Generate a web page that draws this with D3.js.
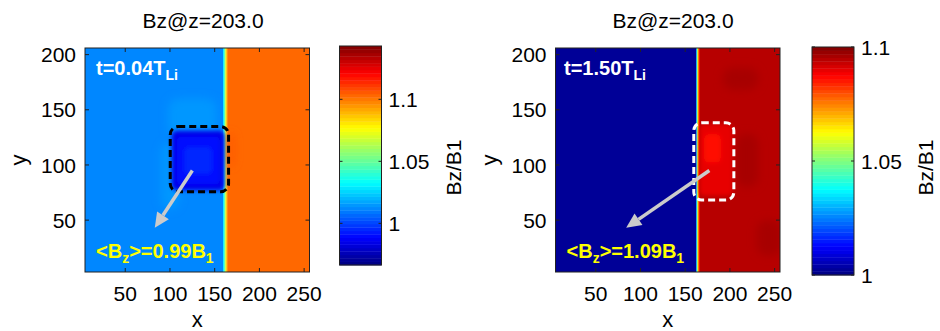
<!DOCTYPE html>
<html>
<head>
<meta charset="utf-8">
<script src="https://cdn.jsdelivr.net/npm/d3@7/dist/d3.min.js"></script>
<style>
  body { margin: 0; background: #fff; }
  svg text { font-family: "Liberation Sans", Arial, Helvetica, sans-serif; fill: #000; }
</style>
</head>
<body>
<svg id="chart" width="940" height="331"></svg>
<script>
// ---- axes ----
const xExtent = [5, 256];
const yExtent = [3, 206];
const xTicks = [50, 100, 150, 200, 250];
const yTicks = [50, 100, 150, 200];
const titles = ["Bz@z=203.0", "Bz@z=203.0"];

// ---- colour bars (Bz/B1) ----
const cbarDomains = [[0.9664, 1.143], [1.0, 1.1]];
const cbarTicks = [[1, 1.05, 1.1], [1, 1.05, 1.1]];

// ---- annotations ----
const times = ["0.04", "1.50"];          // t in units of T_Li
const meanBz = [0.99, 1.09];             // mean Bz inside the dashed box, in B1

// ---- field: full-height columns [x0, x1, Bz/B1] ----
const columnsA = [
  [5, 159.5, 1.012], [159.5, 160.8, 1.03], [160.8, 162.0, 1.05],
  [162.0, 163.2, 1.075], [163.2, 164.4, 1.095], [164.4, 256, 1.103]
];
const columnsB = [
  [5, 162.3, 1.002], [162.3, 163.3, 1.03], [163.3, 164.3, 1.055],
  [164.3, 165.3, 1.075], [165.3, 166.3, 1.085], [166.3, 256, 1.094]
];

// ---- field: diffuse fluctuations [x0, x1, y0, y1, Bz/B1] ----
const hazeA = [
  [98, 152, 125, 160, 1.016],
  [90, 110, 60, 120, 1.015],
  [166, 172, 98, 130, 1.107]
];
const hazeB = [
  [192, 232, 168, 188, 1.096],
  [207, 232, 80, 128, 1.096],
  [230, 258, 18, 50, 1.096]
];

// ---- field: averaging region [x0, x1, y0, y1, Bz/B1] ----
const coreA = [
  [102, 161, 77, 131, 0.985],
  [107, 156, 82, 126, meanBz[0]],
  [116, 147, 92, 116, 0.995]
];
const coreB = [
  [166, 203, 72, 137, meanBz[1]],
  [171, 190, 102, 128, 1.087]
];

// ---- dashed averaging box [x0, x1, y0, y1] and arrows [xFrom, yFrom, xTo, yTo] ----
const boxes = [[100.3, 165.5, 75.7, 134.8], [159.6, 204.4, 68.2, 138.2]];
const arrows = [[125, 95, 83, 43], [177, 95, 84, 43]];

// ---- panel layout ----
const panels = [
  { left: 85, right: 309.5, top: 48, bottom: 272, titleX: 203,
    cbar: { x0: 339.5, x1: 381.5, y0: 46, y1: 265 }, tLabelX: 96,
    columns: columnsA, haze: hazeA, core: coreA, boxStroke: "#000" },
  { left: 555.5, right: 780, top: 48, bottom: 272, titleX: 673,
    cbar: { x0: 812, x1: 854, y0: 47, y1: 275 }, tLabelX: 564,
    columns: columnsB, haze: hazeB, core: coreB, boxStroke: "#fff" }
];

// MATLAB-style jet colormap with 64 levels
function jet(t) {
  t = Math.max(0, Math.min(1, t));
  const q = (Math.min(63, Math.floor(t * 64)) + 0.5) / 64;
  const c = v => Math.round(255 * Math.max(0, Math.min(1, v)));
  return d3.rgb(c(1.5 - Math.abs(4 * q - 3)), c(1.5 - Math.abs(4 * q - 2)), c(1.5 - Math.abs(4 * q - 1))).formatHex();
}

const svg = d3.select("#chart");
const defs = svg.append("defs");
function blur(id, sd) {
  defs.append("filter").attr("id", id).attr("x", "-50%").attr("y", "-50%").attr("width", "200%").attr("height", "200%")
    .append("feGaussianBlur").attr("stdDeviation", sd);
}
blur("soft", 2.0);
blur("haze", 4.5);

panels.forEach((p, i) => {
  const x = d3.scaleLinear().domain(xExtent).range([p.left, p.right]);
  const y = d3.scaleLinear().domain(yExtent).range([p.bottom, p.top]);
  const cNorm = d3.scaleLinear().domain(cbarDomains[i]).range([0, 1]);
  const color = v => jet(cNorm(v));

  const clipId = "clip" + i;
  defs.append("clipPath").attr("id", clipId).append("rect")
    .attr("x", p.left).attr("y", p.top).attr("width", p.right - p.left).attr("height", p.bottom - p.top);

  const field = svg.append("g").attr("clip-path", `url(#${clipId})`);
  field.selectAll("rect.col").data(p.columns).join("rect").attr("class", "col")
    .attr("x", d => x(d[0])).attr("width", d => x(d[1]) - x(d[0]) + 0.3)
    .attr("y", y(yExtent[1])).attr("height", y(yExtent[0]) - y(yExtent[1]))
    .attr("fill", d => color(d[2]));
  const patch = (g, rows, rx) => g.selectAll("rect").data(rows).join("rect")
    .attr("x", d => x(d[0])).attr("width", d => x(d[1]) - x(d[0]))
    .attr("y", d => y(d[3])).attr("height", d => y(d[2]) - y(d[3]))
    .attr("rx", rx).attr("fill", d => color(d[4]));
  patch(field.append("g").attr("filter", "url(#haze)"), p.haze, 10);
  patch(field.append("g").attr("filter", "url(#soft)"), p.core, 5);

  // axes box with inward ticks on all four sides
  const ax = svg.append("g").attr("stroke", "#222").attr("stroke-width", 1).attr("fill", "none");
  ax.append("rect").attr("x", p.left).attr("y", p.top).attr("width", p.right - p.left).attr("height", p.bottom - p.top);
  xTicks.forEach(v => {
    ax.append("line").attr("x1", x(v)).attr("x2", x(v)).attr("y1", p.bottom).attr("y2", p.bottom - 4);
    ax.append("line").attr("x1", x(v)).attr("x2", x(v)).attr("y1", p.top).attr("y2", p.top + 4);
  });
  yTicks.forEach(v => {
    ax.append("line").attr("x1", p.left).attr("x2", p.left + 4).attr("y1", y(v)).attr("y2", y(v));
    ax.append("line").attr("x1", p.right).attr("x2", p.right - 4).attr("y1", y(v)).attr("y2", y(v));
  });

  svg.append("g").selectAll("text").data(xTicks).join("text")
    .attr("x", d => x(d)).attr("y", p.bottom + 29).attr("text-anchor", "middle")
    .attr("font-size", 21).text(d => d);
  svg.append("g").selectAll("text").data(yTicks).join("text")
    .attr("x", p.left - 9).attr("y", d => y(d)).attr("dy", "0.36em").attr("text-anchor", "end")
    .attr("font-size", 21).text(d => d);

  svg.append("text").attr("x", p.titleX).attr("y", 28).attr("text-anchor", "middle")
    .attr("font-size", 21).text(titles[i]);
  svg.append("text").attr("x", (p.left + p.right) / 2).attr("y", 327).attr("text-anchor", "middle")
    .attr("font-size", 22).text("x");
  svg.append("text").attr("transform", `translate(${p.left - 59},${(p.top + p.bottom) / 2}) rotate(-90)`)
    .attr("text-anchor", "middle").attr("font-size", 22).text("y");

  // dashed averaging box
  const b = boxes[i];
  svg.append("rect").attr("x", x(b[0])).attr("y", y(b[3]))
    .attr("width", x(b[1]) - x(b[0])).attr("height", y(b[2]) - y(b[3]))
    .attr("rx", 8).attr("fill", "none").attr("stroke", p.boxStroke)
    .attr("stroke-width", 3).attr("stroke-dasharray", "7,4");

  // arrow from box to the mean-value label
  const a = arrows[i];
  const x1 = x(a[0]), y1 = y(a[1]), x2 = x(a[2]), y2 = y(a[3]);
  const ang = Math.atan2(y2 - y1, x2 - x1), L = 15, W = 7;
  const bx = x2 - L * Math.cos(ang), by = y2 - L * Math.sin(ang);
  svg.append("line").attr("x1", x1).attr("y1", y1).attr("x2", bx).attr("y2", by)
    .attr("stroke", "#cbcbcb").attr("stroke-width", 3.5);
  svg.append("polygon").attr("fill", "#cbcbcb")
    .attr("points", [[x2, y2],
      [bx + W * Math.sin(ang), by - W * Math.cos(ang)],
      [bx - W * Math.sin(ang), by + W * Math.cos(ang)]].map(d => d.join(",")).join(" "));

  // time label
  const tl = svg.append("text").attr("x", p.tLabelX).attr("y", 75)
    .attr("font-size", 20).attr("font-weight", "bold").style("fill", "#fff");
  tl.append("tspan").text(`t=${times[i]}T`);
  tl.append("tspan").attr("dy", 5).attr("font-size", 14).text("Li");

  // mean-value label
  const ml = svg.append("text").attr("x", p.left + 11).attr("y", 258)
    .attr("font-size", 20).attr("font-weight", "bold").style("fill", "#ffff00");
  ml.append("tspan").text("<B");
  ml.append("tspan").attr("dy", 5).attr("font-size", 14).text("z");
  ml.append("tspan").attr("dy", -5).text(`>=${meanBz[i].toFixed(2)}B`);
  ml.append("tspan").attr("dy", 5).attr("font-size", 14).text("1");

  // colour bar
  const cb = p.cbar;
  const cy = d3.scaleLinear().domain(cbarDomains[i]).range([cb.y1, cb.y0]);
  const levels = d3.range(64);
  const lv = d3.scaleLinear().domain([0, 64]).range(cbarDomains[i]);
  svg.append("g").selectAll("rect").data(levels).join("rect")
    .attr("x", cb.x0).attr("width", cb.x1 - cb.x0)
    .attr("y", d => cy(lv(d + 1))).attr("height", d => cy(lv(d)) - cy(lv(d + 1)) + 0.4)
    .attr("fill", d => jet((d + 0.5) / 64));
  const cax = svg.append("g").attr("stroke", "#222").attr("fill", "none");
  cax.append("rect").attr("x", cb.x0).attr("y", cb.y0).attr("width", cb.x1 - cb.x0).attr("height", cb.y1 - cb.y0);
  cbarTicks[i].forEach(v => {
    cax.append("line").attr("x1", cb.x0).attr("x2", cb.x0 + 3).attr("y1", cy(v)).attr("y2", cy(v));
    cax.append("line").attr("x1", cb.x1).attr("x2", cb.x1 - 3).attr("y1", cy(v)).attr("y2", cy(v));
  });
  svg.append("g").selectAll("text").data(cbarTicks[i]).join("text")
    .attr("x", cb.x1 + 7).attr("y", d => cy(d)).attr("dy", "0.36em")
    .attr("font-size", 21).text(d => d3.format("")(d));
  svg.append("text").attr("transform", `translate(${cb.x1 + 79},${167.5}) rotate(-90)`)
    .attr("text-anchor", "middle").attr("font-size", 21).text("Bz/B1");
});
</script>
</body>
</html>
